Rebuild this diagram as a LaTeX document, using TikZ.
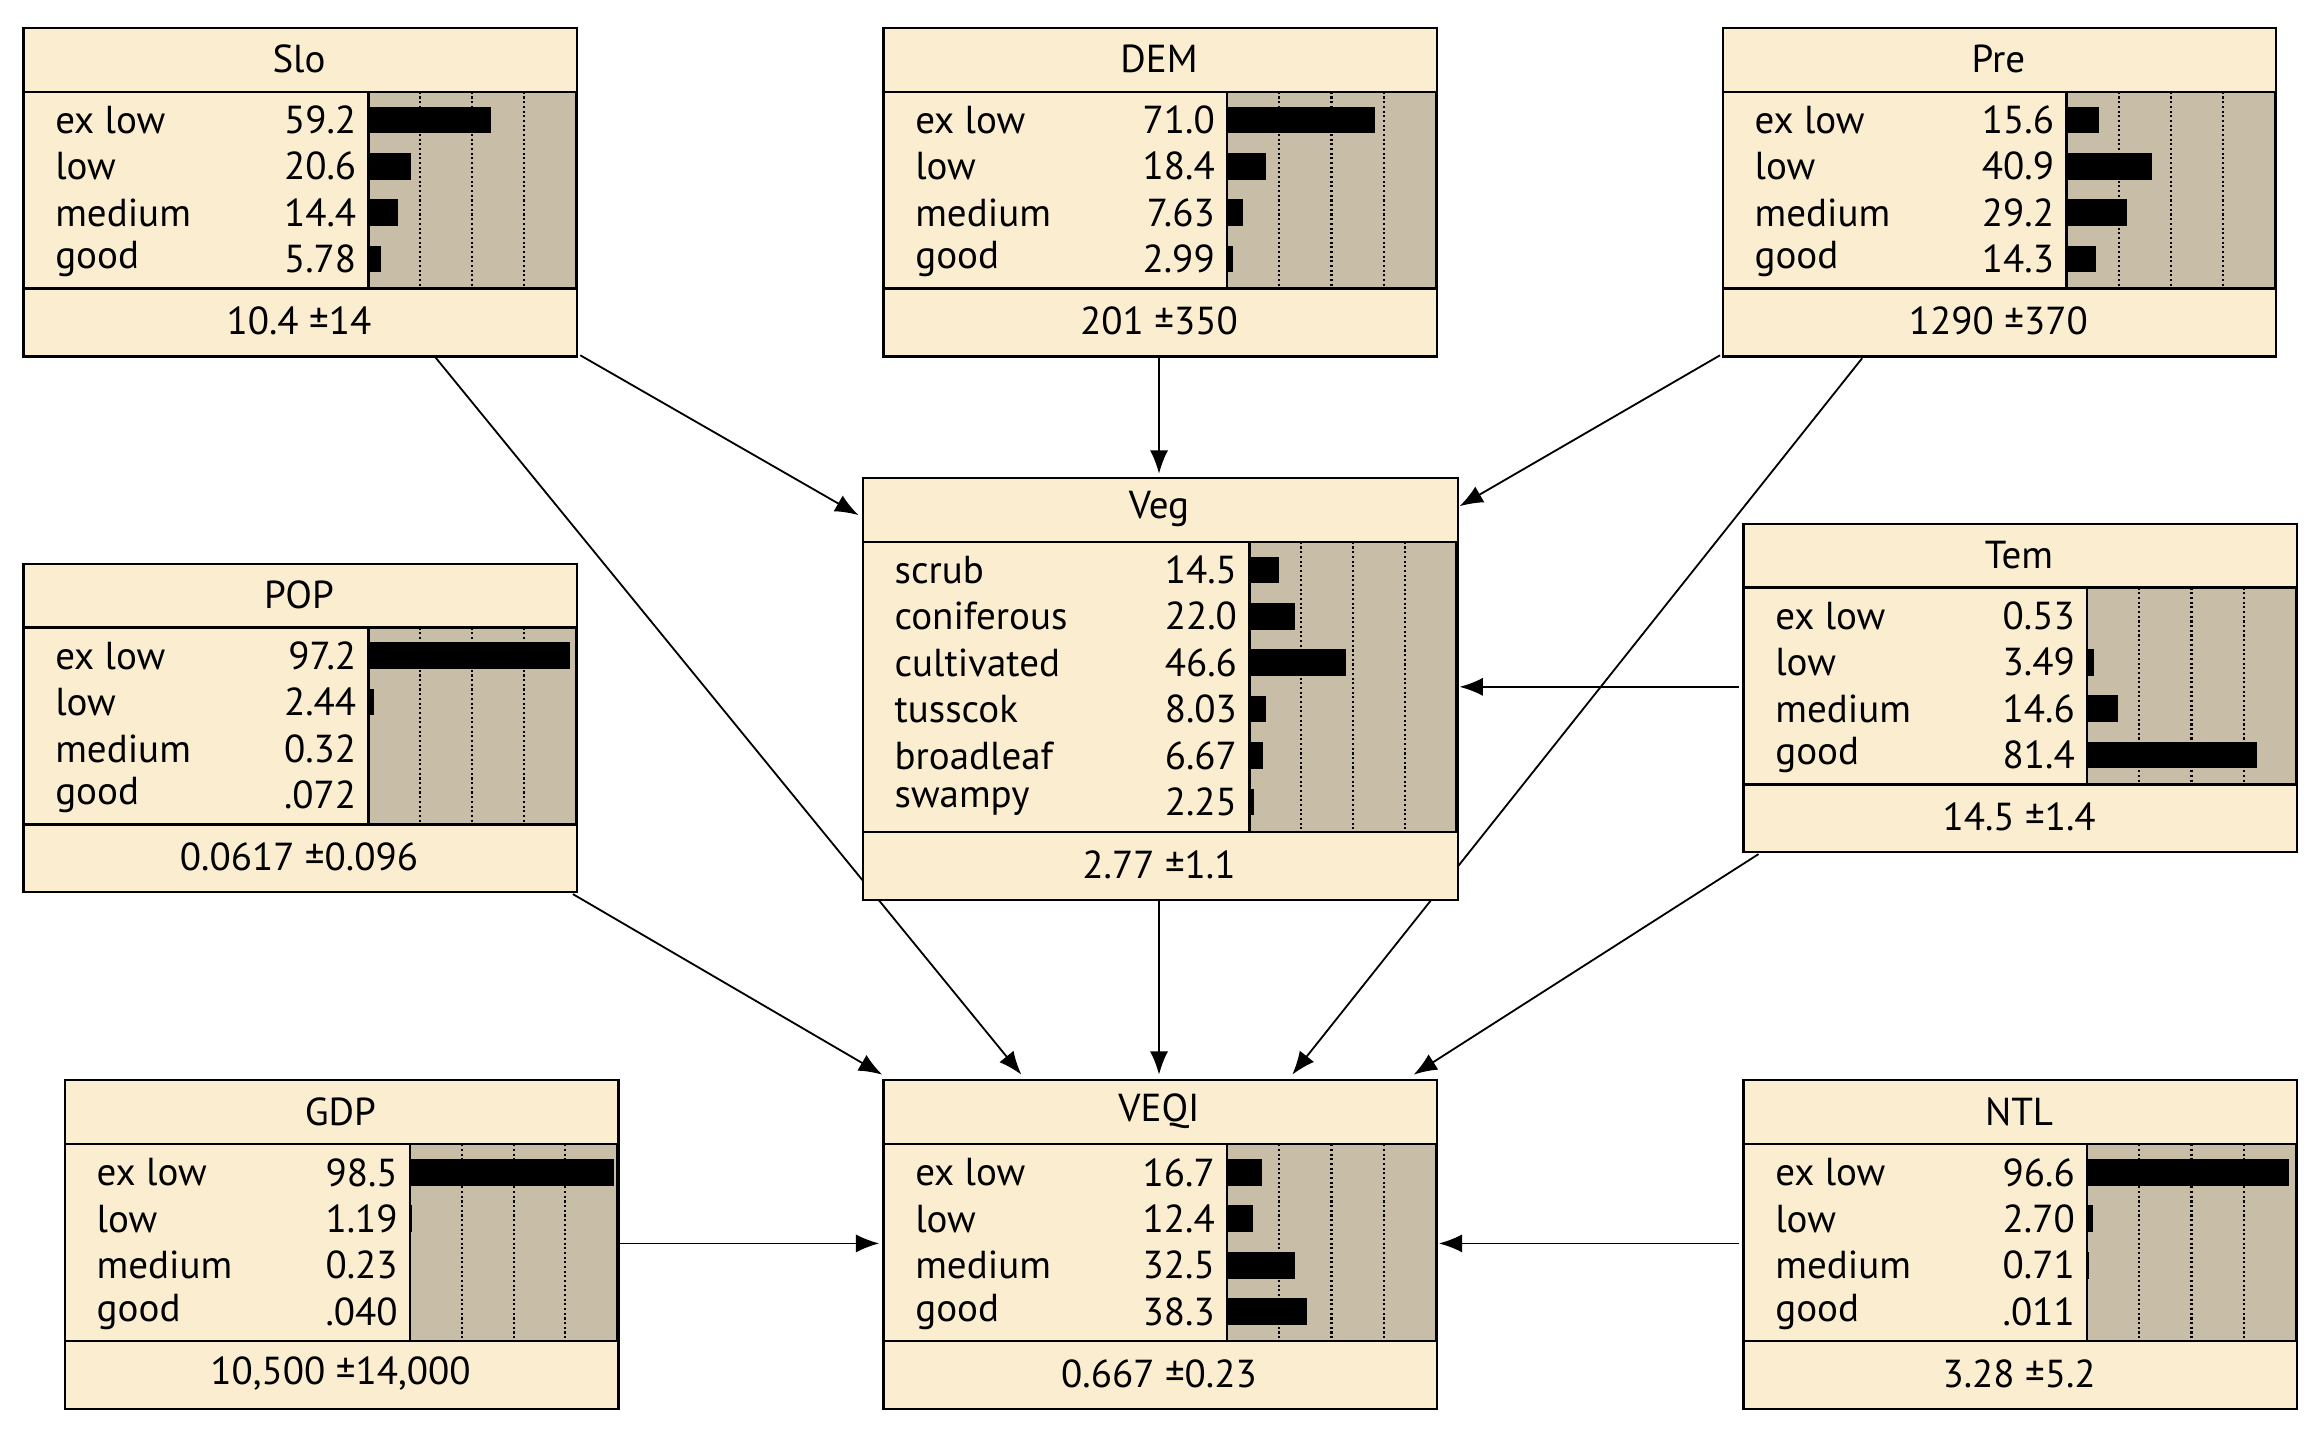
\documentclass[tikz,border=0pt]{standalone}
\usepackage{fontspec}
\setmainfont{PT Sans}
\usetikzlibrary{calc,backgrounds,arrows.meta}
\definecolor{cream}{RGB}{250,237,208}
\definecolor{greyb}{RGB}{200,190,168}
\tikzset{
  box/.style={draw,fill=cream,inner sep=0,anchor=north west,line width=0.9pt},
  txt/.style={inner sep=0,font=\fontsize{15}{17}\selectfont},
  arr/.style={-{Latex[length=9pt,width=7pt]},line width=0.7pt}
}
\newcommand\bnbox[9]{%
  \node[box,minimum width={#9*0.02cm},minimum height={#4*0.02cm}] (#1) at (#2,#3) {};
  \draw[line width=0.9pt] (#2,{#3+44}) -- ++(#9,0);
  \draw[line width=0.9pt] (#2,{#3+#4-45}) -- ++(#9,0);
  \draw[fill=greyb,line width=0.9pt] ({#2+#5},{#3+44}) rectangle ({#2+#9},{#3+#4-45});
  \foreach \k in {1,2,3}{\draw[densely dotted,line width=0.8pt] ({#2+#5+\k*(#9-#5)/4},{#3+44}) -- ({#2+#5+\k*(#9-#5)/4},{#3+#4-45});}
  \node[txt] at ({#2+#9/2},{#3+22}) {#6};
  \node[txt] at ({#2+#9/2},{#3+#4-23}) {#8};
  \foreach \lab/\val/\bv [count=\i] in {#7}{
    \pgfmathsetmacro\yy{#3+63+(\i-1)*31.35}
    \node[txt,anchor=west] at ({#2+22},\yy) {\lab};
    \node[txt,anchor=east] at ({#2+#5-8},\yy) {\val};
    \fill ({#2+#5},{\yy-9}) rectangle ({#2+#5+\bv/100*(#9-#5)},{\yy+9});
  }
}
\begin{document}
\begin{tikzpicture}[x=0.02cm,y=-0.02cm]
\useasboundingbox (0,0) rectangle (1568,975);
\bnbox{slo}{15}{18}{222}{234}{Slo}{ex low/59.2/59.2,low/20.6/20.6,medium/14.4/14.4,good/5.78/5.78}{10.4 ±14}{374}
\bnbox{dem}{596}{18}{222}{233}{DEM}{ex low/71.0/71.0,low/18.4/18.4,medium/7.63/7.63,good/2.99/2.99}{201 ±350}{374}
\bnbox{pre}{1163}{18}{222}{233}{Pre}{ex low/15.6/15.6,low/40.9/40.9,medium/29.2/29.2,good/14.3/14.3}{1290 ±370}{374}
\bnbox{veg}{582}{322}{285}{262}{Veg}{scrub/14.5/14.5,coniferous/22.0/22.0,cultivated/46.6/46.6,tusscok/8.03/8.03,broadleaf/6.67/6.67,swampy/2.25/2.25}{2.77 ±1.1}{402}
\bnbox{pop}{15}{380}{222}{234}{POP}{ex low/97.2/97.2,low/2.44/2.44,medium/0.32/0.32,good/.072/0.072}{0.0617 ±0.096}{374}
\bnbox{tem}{1177}{353}{222}{233}{Tem}{ex low/0.53/0.53,low/3.49/3.49,medium/14.6/14.6,good/81.4/81.4}{14.5 ±1.4}{374}
\bnbox{gdp}{43}{729}{222}{234}{GDP}{ex low/98.5/98.5,low/1.19/1.19,medium/0.23/0.23,good/.040/0.040}{10,500 ±14,000}{374}
\bnbox{veqi}{596}{729}{222}{233}{VEQI}{ex low/16.7/16.7,low/12.4/12.4,medium/32.5/32.5,good/38.3/38.3}{0.667 ±0.23}{374}
\bnbox{ntl}{1177}{729}{222}{233}{NTL}{ex low/96.6/96.6,low/2.70/2.70,medium/0.71/0.71,good/.011/0.011}{3.28 ±5.2}{374}
\begin{scope}[on background layer]
\draw[arr] ($(slo.north west)+(377,222)$) -- ($(veg.north west)+(-2,26)$);
\draw[arr] ($(slo.north west)+(278,222)$) -- ($(veqi.north west)+(94,-3)$);
\draw[arr] ($(dem.north west)+(187,222)$) -- ($(veg.north west)+(201,-2)$);
\draw[arr] ($(pre.north west)+(-1,222)$) -- ($(veg.north west)+(404,20)$);
\draw[arr] ($(pre.north west)+(95,224)$) -- ($(veqi.north west)+(277,-3)$);
\draw[arr] ($(tem.north west)+(-2,111)$) -- ($(veg.north west)+(404,142)$);
\draw[arr] ($(pop.north west)+(372,224)$) -- ($(veqi.north west)+(0,-3)$);
\draw[arr] ($(veg.north west)+(201,287)$) -- ($(veqi.north west)+(187,-3)$);
\draw[arr] ($(tem.north west)+(11,224)$) -- ($(veqi.north west)+(359,-3)$);
\draw[arr] ($(gdp.north west)+(376,111)$) -- ($(veqi.north west)+(-2,111)$);
\draw[arr] ($(ntl.north west)+(-2,111)$) -- ($(veqi.north west)+(376,111)$);
\end{scope}
\end{tikzpicture}
\end{document}
